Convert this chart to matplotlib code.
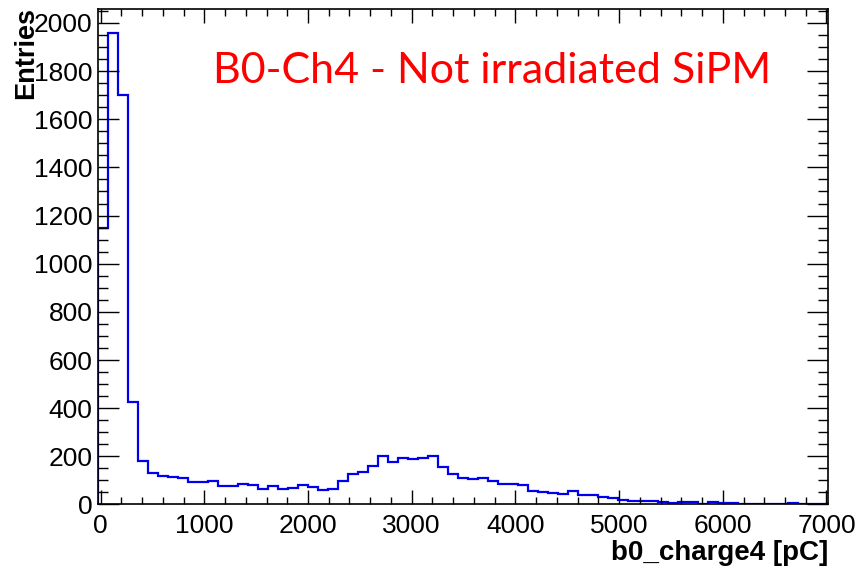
import numpy as np
import matplotlib.pyplot as plt
from matplotlib.ticker import MultipleLocator

# histogram: 73 bins between -25 and 7015 pC
x_low = -25
x_high = 7015
counts = [1147, 1960, 1700, 424, 182, 130, 120, 113, 109, 95,
          92, 99, 77, 77, 87, 81, 66, 77, 66, 69,
          81, 72, 62, 64, 96, 127, 134, 159, 200, 178,
          195, 188, 193, 203, 156, 127, 110, 106, 110, 96,
          86, 84, 82, 58, 52, 47, 44, 58, 39, 39,
          30, 26, 19, 14, 15, 15, 12, 8, 12, 9,
          4, 10, 7, 7, 3, 2, 4, 4, 3, 6,
          4, 3, 3]
edges = np.linspace(x_low, x_high, len(counts) + 1)

plt.rcParams['font.family'] = ['Liberation Sans', 'DejaVu Sans']

fig = plt.figure(figsize=(8.62, 5.69), dpi=100)
ax = fig.add_axes([0.1137, 0.1134, 0.8469, 0.8708])

ax.stairs(counts, edges, color='#0000ee', lw=1.6)

ax.set_xlim(x_low, x_high)
ax.set_ylim(0, max(counts) * 1.05)

ax.xaxis.set_major_locator(MultipleLocator(1000))
ax.xaxis.set_minor_locator(MultipleLocator(200))
ax.yaxis.set_major_locator(MultipleLocator(200))
ax.yaxis.set_minor_locator(MultipleLocator(50))

ax.tick_params(axis='both', which='both', direction='in', top=True, right=True,
               labelsize=19, width=1, pad=4)
ax.tick_params(axis='x', which='major', length=10, pad=7)
ax.tick_params(axis='x', which='minor', length=5)
ax.tick_params(axis='y', which='major', length=15)
ax.tick_params(axis='y', which='minor', length=7)
for s in ax.spines.values():
    s.set_linewidth(1.2)

ax.set_xlabel("b0_charge4 [pC]", fontsize=20, fontweight='bold', loc='right', labelpad=1)
ax.set_ylabel("Entries", fontsize=19.5, fontweight='bold', loc='top')
ax.yaxis.set_label_coords(-0.081, 1.004)

ax.text(0.158, 0.875, "B0-Ch4 - Not irradiated SiPM", transform=ax.transAxes,
        color='red', fontsize=31, family='Lato', va='center')

fig.savefig("out.png", dpi=100)
